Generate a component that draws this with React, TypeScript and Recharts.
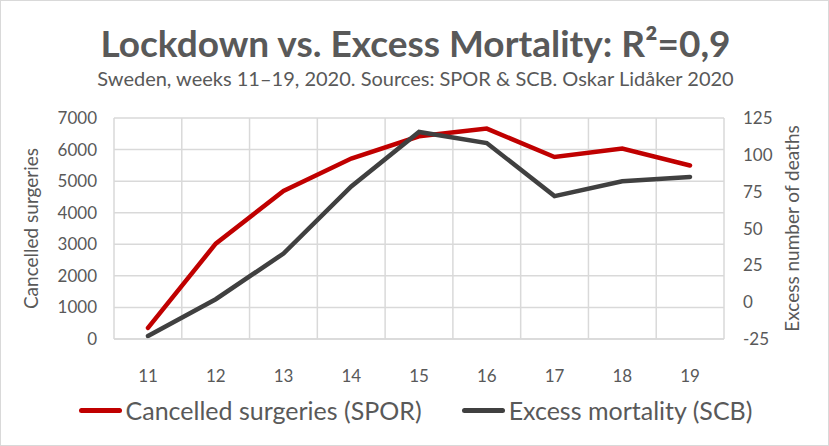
import { CartesianGrid, Line, LineChart, XAxis, YAxis } from "recharts";

const weeks = ["11", "12", "13", "14", "15", "16", "17", "18", "19"];
const cancelledSurgeries = [350, 3020, 4690, 5715, 6420, 6665, 5765, 6030, 5495];
const excessMortality = [-23, 2, 33, 78.5, 115.5, 108, 72, 82, 85];
const leftTicks = [0, 1000, 2000, 3000, 4000, 5000, 6000, 7000];
const rightTicks = [-25, 0, 25, 50, 75, 100, 125];

const seriesNames = ["Cancelled surgeries (SPOR)", "Excess mortality (SCB)"];
const seriesColors = ["#c00000", "#404040"];

const data = weeks.map((w, i) => ({
	week: w,
	surgeries: cancelledSurgeries[i],
	mortality: excessMortality[i],
}));

const FONT = "Lato, 'Noto Sans', sans-serif";
const GREY = "#595959";
const GRID = "#d9d9d9";

export default function App() {
	const tick = { fill: GREY, fontSize: 17 };
	return (
		<div
			style={{
				position: "absolute",
				left: 0,
				top: 0,
				width: 829,
				height: 446,
				boxSizing: "border-box",
				border: "1px solid #d9d9d9",
				background: "#fff",
				fontFamily: FONT,
				overflow: "hidden",
			}}
		>
			<div
				style={{
					position: "absolute",
					top: 20,
					left: 0,
					width: 829,
					textAlign: "center",
					fontSize: 37,
					fontWeight: 700,
					color: GREY,
					lineHeight: "44px",
				}}
			>
				Lockdown vs. Excess Mortality: R²=0,9
			</div>
			<div
				style={{
					position: "absolute",
					top: 64,
					left: 0,
					width: 829,
					textAlign: "center",
					fontSize: 20,
					color: GREY,
					lineHeight: "26px",
				}}
			>
				Sweden, weeks 11–19, 2020. Sources: SPOR &amp; SCB. Oskar Lidåker 2020
			</div>
			<div style={{ position: "absolute", left: -1, top: -1 }}>
				<LineChart
					width={829}
					height={446}
					data={data}
					margin={{ top: 118, right: 0, bottom: 77, left: 0 }}
					style={{ fontFamily: FONT }}
				>
					<CartesianGrid
						stroke={GRID}
						strokeWidth={1.5}
						yAxisId="left"
						verticalCoordinatesGenerator={({ offset }: any) =>
							weeks.concat([""]).map((_, i) => offset.left + (i * offset.width) / weeks.length)
						}
					/>
					<XAxis
						dataKey="week"
						height={30}
						padding={{ left: 34, right: 34 }}
						tickLine={false}
						axisLine={{ stroke: GRID, strokeWidth: 1.5 }}
						tick={tick}
						tickMargin={25}
					/>
					<YAxis
						yAxisId="left"
						width={114}
						domain={[0, 7000]}
						ticks={leftTicks}
						axisLine={false}
						tickLine={false}
						tick={tick}
						tickMargin={11}
						label={{
							value: "Cancelled surgeries",
							angle: -90,
							position: "insideLeft",
							offset: 31,
							style: { textAnchor: "middle", fill: GREY, fontSize: 19 },
						}}
					/>
					<YAxis
						yAxisId="right"
						orientation="right"
						width={105}
						domain={[-25, 125]}
						ticks={rightTicks}
						axisLine={false}
						tickLine={false}
						tick={tick}
						tickMargin={13}
						label={{
							value: "Excess number of deaths",
							angle: -90,
							position: "insideRight",
							offset: 37,
							style: { textAnchor: "middle", fill: GREY, fontSize: 19 },
						}}
					/>
					<Line
						yAxisId="left"
						dataKey="surgeries"
						name={seriesNames[0]}
						stroke={seriesColors[0]}
						strokeWidth={4.5}
						dot={false}
						isAnimationActive={false}
						strokeLinecap="round"
					/>
					<Line
						yAxisId="right"
						dataKey="mortality"
						name={seriesNames[1]}
						stroke={seriesColors[1]}
						strokeWidth={4.5}
						dot={false}
						isAnimationActive={false}
						strokeLinecap="round"
					/>
				</LineChart>
			</div>
			<div
				style={{
					position: "absolute",
					top: 393,
					left: 0,
					width: 829,
					display: "flex",
					justifyContent: "center",
					gap: 40,
					fontSize: 25,
					color: GREY,
					lineHeight: "32px",
				}}
			>
				{seriesNames.map((n, i) => (
					<div key={n} style={{ display: "flex", alignItems: "center" }}>
						<span
							style={{
								display: "inline-block",
								width: 43,
								height: 5,
								borderRadius: 3,
								background: seriesColors[i],
								marginRight: 4,
							}}
						/>
						{n}
					</div>
				))}
			</div>
		</div>
	);
}
